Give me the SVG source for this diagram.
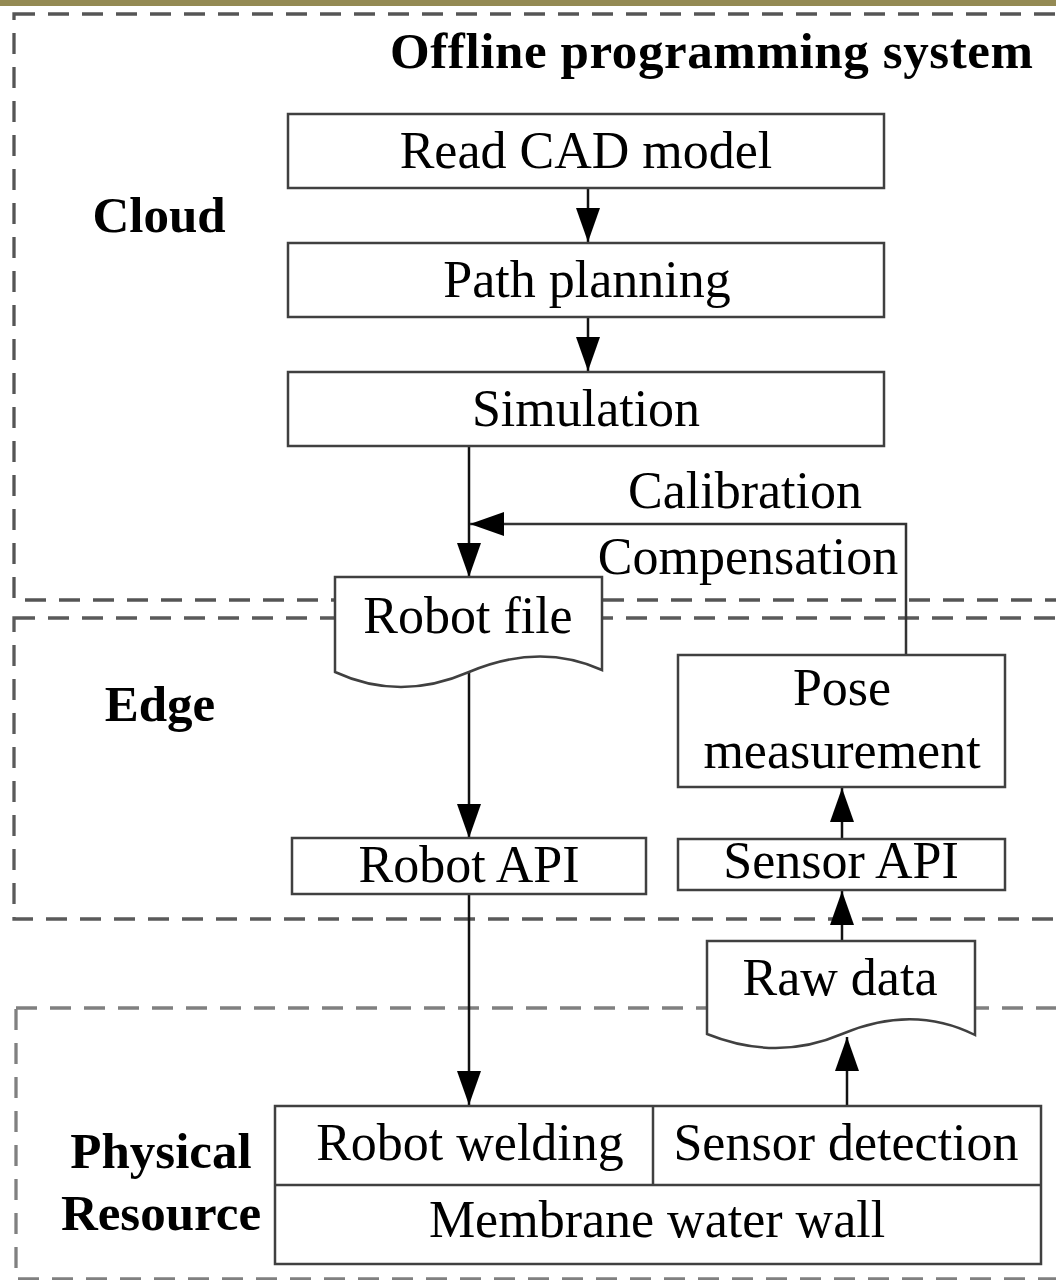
<svg xmlns="http://www.w3.org/2000/svg" width="1056" height="1280" viewBox="0 0 1056 1280">
<defs>
<marker id="ah" markerWidth="34" markerHeight="24" refX="34" refY="12" orient="auto" markerUnits="userSpaceOnUse">
<path d="M0,0 L34,12 L0,24 Z" fill="#000"/>
</marker>
<style>
.zone{fill:none;stroke:#666;stroke-width:3.3;stroke-dasharray:21 13}
.box{fill:#fff;stroke:#404040;stroke-width:2.5}
.t{font-family:"Liberation Serif","Times New Roman",serif;font-size:52px;fill:#000;text-anchor:middle}
.b{font-family:"Liberation Serif","Times New Roman",serif;font-size:51px;font-weight:bold;fill:#000;text-anchor:middle}
.c{fill:none;stroke:#111;stroke-width:2.5}
</style>
</defs>
<rect x="0" y="0" width="1056" height="1280" fill="#fff"/>
<rect x="0" y="0" width="1056" height="6" fill="#948a54"/>
<g id="zones">
<rect class="zone" x="14" y="14" width="1100" height="586" style="stroke:#555"/>
<rect class="zone" x="14" y="618" width="1100" height="301" style="stroke:#5a5a5a"/>
<rect class="zone" x="16" y="1008" width="1100" height="271" style="stroke:#808080"/>
</g>
<g id="labels">
<text class="b" x="390" y="68" style="text-anchor:start" textLength="643" lengthAdjust="spacing">Offline programming system</text>
<text class="b" x="159" y="232">Cloud</text>
<text class="b" x="160" y="721">Edge</text>
<text class="b" x="161" y="1168">Physical</text>
<text class="b" x="161" y="1230">Resource</text>
</g>
<g id="connectors">
<line class="c" x1="588" y1="188" x2="588" y2="242" marker-end="url(#ah)"/>
<line class="c" x1="588" y1="317" x2="588" y2="371" marker-end="url(#ah)"/>
<line class="c" x1="469" y1="446" x2="469" y2="577" marker-end="url(#ah)"/>
<polyline class="c" points="906,655 906,524 470,524" marker-end="url(#ah)" style="stroke:#333"/>
<line class="c" x1="469" y1="672" x2="469" y2="838" marker-end="url(#ah)"/>
<line class="c" x1="469" y1="894" x2="469" y2="1105" marker-end="url(#ah)"/>
<line class="c" x1="842" y1="839" x2="842" y2="788" marker-end="url(#ah)"/>
<line class="c" x1="842" y1="941" x2="842" y2="891" marker-end="url(#ah)"/>
<line class="c" x1="847" y1="1106" x2="847" y2="1037" marker-end="url(#ah)"/>
</g>
<g id="calib-label">
<text class="t" x="745" y="508">Calibration</text>
<text class="t" x="748" y="574">Compensation</text>
</g>
<g id="read-cad">
<rect class="box" x="288" y="114" width="596" height="74"/>
<text class="t" x="586" y="168">Read CAD model</text>
</g>
<g id="path-planning">
<rect class="box" x="288" y="243" width="596" height="74"/>
<text class="t" x="587" y="297">Path planning</text>
</g>
<g id="simulation">
<rect class="box" x="288" y="372" width="596" height="74"/>
<text class="t" x="586" y="426">Simulation</text>
</g>
<g id="robot-file">
<path class="box" d="M335,577 L602,577 L602,670 Q540,642 469,672 Q400,702 335,672 Z"/>
<text class="t" x="468" y="633">Robot file</text>
</g>
<g id="pose-measurement">
<rect class="box" x="678" y="655" width="327" height="132"/>
<text class="t" x="842" y="705">Pose</text>
<text class="t" x="842" y="768">measurement</text>
</g>
<g id="robot-api">
<rect class="box" x="292" y="838" width="354" height="56"/>
<text class="t" x="469" y="882">Robot API</text>
</g>
<g id="sensor-api">
<rect class="box" x="678" y="839" width="327" height="51"/>
<text class="t" x="841" y="878">Sensor API</text>
</g>
<g id="raw-data">
<path class="box" d="M707,941 L975,941 L975,1035 Q913,1004 842,1034 Q777,1062 707,1034 Z"/>
<text class="t" x="840" y="995">Raw data</text>
</g>
<g id="physical-table">
<rect class="box" x="275" y="1106" width="766" height="158"/>
<line class="box" x1="275" y1="1185" x2="1041" y2="1185"/>
<line class="box" x1="653" y1="1106" x2="653" y2="1185"/>
<text class="t" x="470" y="1160">Robot welding</text>
<text class="t" x="846" y="1160">Sensor detection</text>
<text class="t" x="657" y="1237">Membrane water wall</text>
</g>
</svg>
